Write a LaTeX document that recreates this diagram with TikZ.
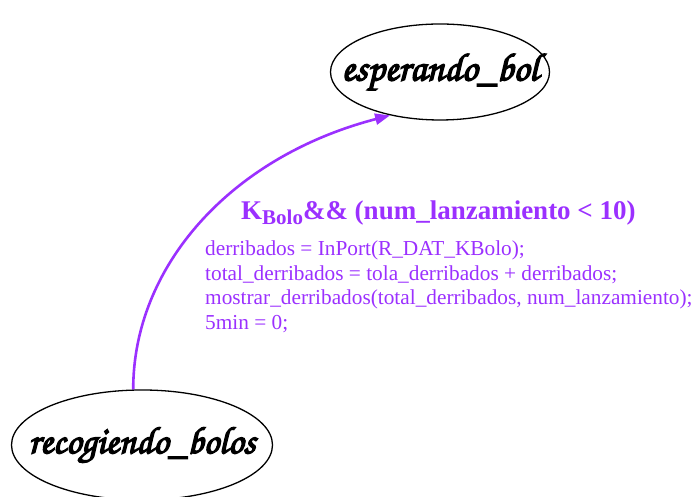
\documentclass[tikz,border=0pt]{standalone}
\usepackage{fontspec}
\setmainfont{Liberation Serif}
\newfontfamily\chorus[FakeBold=3.5]{TeX Gyre Chorus}
\usetikzlibrary{shapes.geometric,arrows.meta}
\definecolor{edgepurple}{RGB}{155,48,255}
% state name set at a fixed width, centred on the node
\newcommand\statetext[2]{\makebox[0pt]{\resizebox{#1}{!}{\chorus\fontsize{40}{40}\selectfont #2}}}
% lowered, smaller bold index
\newcommand\guardsub[1]{\raisebox{-5pt}{\fontsize{21}{21}\selectfont #1}}
\tikzset{
  state/.style={ellipse, draw=black, line width=1.3pt, inner sep=0pt},
  transition/.style={draw=edgepurple, line width=2.6pt,
    -{Triangle[length=15pt,width=11pt]}},
  guardtext/.style={text=edgepurple, inner sep=0pt,
    font=\bfseries\fontsize{27}{30}\selectfont},
  actiontext/.style={text=edgepurple, inner sep=0pt,
    font=\fontsize{21.3}{24}\selectfont},
}
\begin{document}
\begin{tikzpicture}[x=1pt,y=1pt]
\useasboundingbox (0,0) rectangle (694,497);
% states
\node[state, minimum width=219pt, minimum height=96pt] (esp) at (440,425)
  {\statetext{197pt}{esperando\_bol}};
\node[state, minimum width=261pt, minimum height=110pt] (rec) at (142,52)
  {\statetext{227pt}{recogiendo\_bolos}};
% transition
\draw[transition] (rec.99) .. controls (133,230) and (230,340) .. (esp.221);
% guard and actions
\node[guardtext, anchor=base west] (guard) at (241,277)
  {K\guardsub{Bolo}\&\& (num\_lanzamiento < 10)};
\node[actiontext, anchor=base west] (act1) at (205,241)
  {derribados = InPort(R\_DAT\_KBolo);};
\node[actiontext, anchor=base west] (act2) at (205,216.5)
  {total\_derribados = tola\_derribados + derribados;};
\node[actiontext, anchor=base west] (act3) at (205,192)
  {mostrar\_derribados(total\_derribados, num\_lanzamiento);};
\node[actiontext, anchor=base west] (act4) at (205,167.5)
  {5min = 0;};
\end{tikzpicture}
\end{document}
